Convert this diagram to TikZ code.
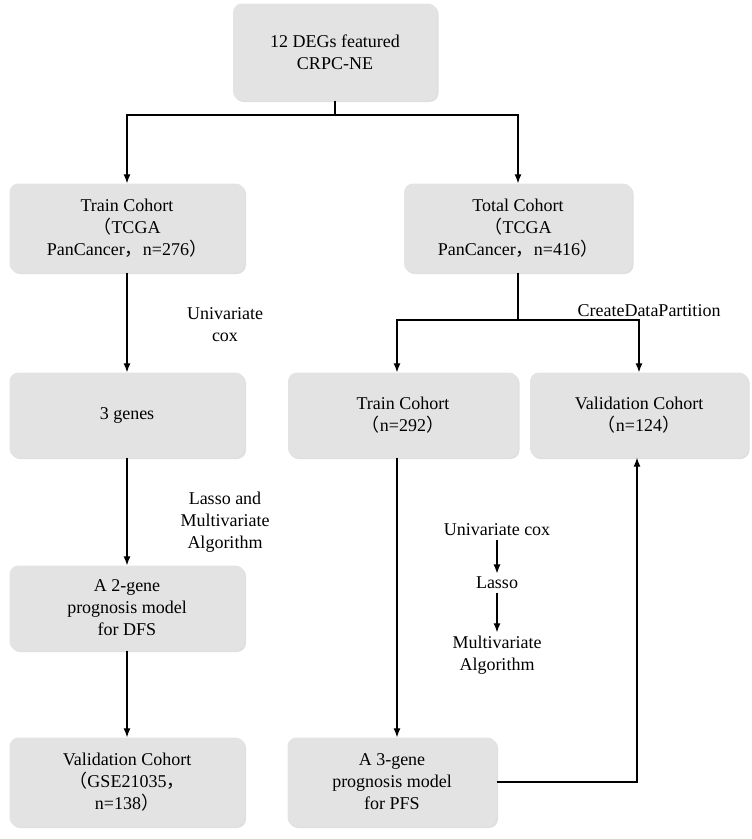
\documentclass[tikz,border=0pt]{standalone}
\usepackage{fontspec}
\setmainfont{Liberation Serif}
\newfontfamily\cjk{Noto Sans CJK SC}
\usetikzlibrary{shadows,arrows.meta}
\newcommand{\lp}{{\cjk （}}
\newcommand{\rp}{{\cjk ）}}
\newcommand{\cm}{{\cjk ，}}
\begin{document}
\begin{tikzpicture}[x=1pt,y=-1pt,
  box/.style={fill=black!11,rounded corners=9pt,align=center,font=\fontsize{18}{22}\selectfont,inner sep=0pt,drop shadow={opacity=0.25,shadow xshift=1.5pt,shadow yshift=-1.5pt}},
  lab/.style={align=center,font=\fontsize{18}{22}\selectfont},
  arr/.style={-{Latex[length=9pt,width=7pt]},line width=1.2pt},
  ln/.style={line width=1.2pt}]
\useasboundingbox (0,0) rectangle (752,839);
\node[box,minimum width=204,minimum height=97] (top) at (335,52) {12 DEGs featured\\CRPC-NE};
\node[box,minimum width=235,minimum height=89] (tr1) at (127,228) {Train Cohort\\\lp TCGA\\PanCancer\cm n=276\rp};
\node[box,minimum width=228,minimum height=89] (tot) at (518,228) {Total Cohort\\\lp TCGA\\PanCancer\cm n=416\rp};
\node[box,minimum width=235,minimum height=85] (g3) at (127,415) {3 genes};
\node[box,minimum width=230,minimum height=85] (tr2) at (403,415) {Train Cohort\\\lp n=292\rp};
\node[box,minimum width=218,minimum height=85] (val) at (639,415) {Validation Cohort\\\lp n=124\rp};
\node[box,minimum width=235,minimum height=85] (m2) at (127,608) {A 2-gene\\prognosis model\\for DFS};
\node[box,minimum width=235,minimum height=89] (gse) at (127,782) {Validation Cohort\\\lp GSE21035\cm\\n=138\rp};
\node[box,minimum width=209,minimum height=89] (m3) at (392,782) {A 3-gene\\prognosis model\\for PFS};
\coordinate (s1) at (335,115);
\coordinate (s2) at (518,320);
\draw[ln] (top.south) -- (s1);
\draw[arr] (s1) -| (tr1.north);
\draw[arr] (s1) -| (tot.north);
\draw[ln] (tot.south) -- (s2);
\draw[arr] (s2) -| (tr2.north -| 397,0);
\draw[arr] (s2) -| (val.north);
\draw[arr] (tr1) -- (g3);
\draw[arr] (g3) -- (m2);
\draw[arr] (m2) -- (gse);
\draw[arr] (tr2.south -| 397,0) -- (m3.north -| 397,0);
\draw[arr] (m3.east) -| (val.south -| 637,0);
\node[lab] (l1) at (225,325) {Univariate\\cox};
\node[lab] (l2) at (649,311) {CreateDataPartition};
\node[lab] (l3) at (225,522) {Lasso and\\Multivariate\\Algorithm};
\node[lab] (a1) at (497,530) {Univariate cox};
\node[lab] (a2) at (497,583) {Lasso};
\node[lab] (a3) at (497,655) {Multivariate\\Algorithm};
\draw[arr] (a1) -- (a2);
\draw[arr] (a2) -- (a3);
\end{tikzpicture}
\end{document}
